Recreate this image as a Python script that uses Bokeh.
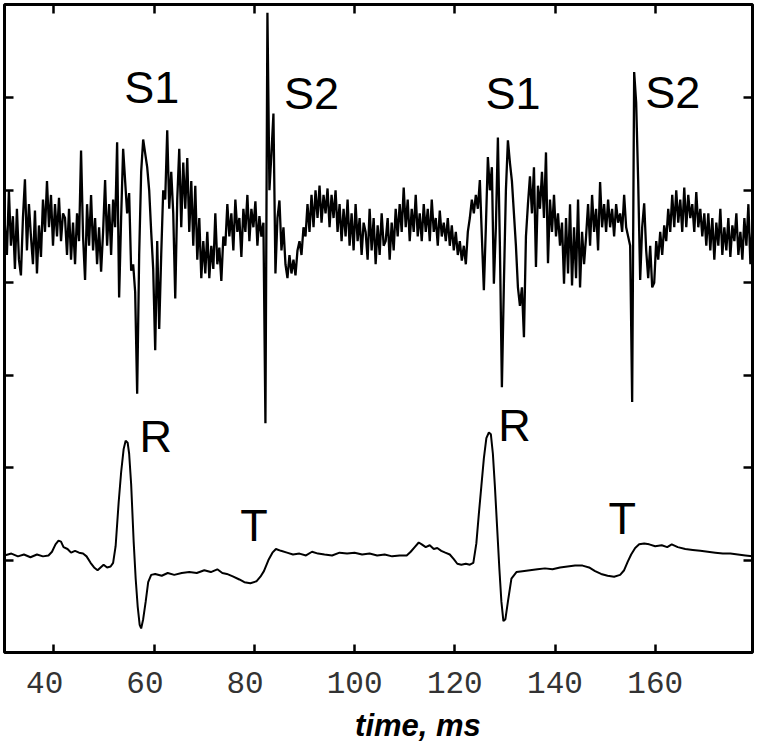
import numpy as np
from bokeh.plotting import figure
from bokeh.layouts import column
from bokeh.models import LinearAxis, FixedTicker, Label, Range1d
from bokeh.embed import file_html
from bokeh.resources import INLINE

# ---------------- data ----------------
x_ticks = [40, 60, 80, 100, 120, 140, 160]
# tick texts are padded to three characters, as in the original
x_tick_labels = ["40\u00a0", "60\u00a0", "80\u00a0", "100", "120", "140", "160"]
y_ticks = [1, 2, 3, 4, 5, 6]

# phonocardiogram (upper trace), sampled every 0.4 ms starting at 30.2 ms
pcg_t0 = 30.2
pcg_dt = 0.4
pcg_v = [
    4.62, 4.30, 5.00, 4.40, 4.72, 4.15, 4.80, 4.25, 4.08, 4.70,
    5.12, 4.35, 4.85, 4.50, 4.20, 4.78, 4.10, 4.62, 4.28, 4.90,
    4.55, 5.10, 4.60, 4.95, 4.40, 4.85, 4.50, 4.92, 4.45, 4.75,
    4.70, 4.30, 4.80, 4.25, 4.65, 4.20, 4.75, 4.45, 5.43, 4.50,
    4.03, 4.85, 4.40, 4.95, 4.35, 4.70, 4.20, 4.60, 4.12, 4.55,
    5.11, 4.40, 4.85, 4.30, 4.90, 4.60, 5.52, 3.84, 4.70, 5.45,
    5.10, 4.75, 4.97, 4.13, 4.20, 3.90, 2.80, 4.30, 5.20, 5.55,
    5.40, 5.25, 5.00, 4.55, 4.15, 3.27, 4.45, 3.50, 4.30, 5.00,
    4.90, 5.65, 4.80, 5.20, 4.75, 3.83, 4.90, 5.45, 4.60, 5.30,
    4.80, 5.35, 4.55, 5.10, 4.40, 5.05, 4.25, 4.70, 4.05, 4.45,
    4.10, 4.55, 4.05, 4.40, 4.15, 4.75, 4.20, 4.38, 4.02, 4.50,
    4.40, 4.85, 4.50, 4.75, 4.35, 4.90, 4.55, 4.70, 4.28, 4.80,
    4.55, 4.95, 4.45, 4.80, 4.60, 4.88, 4.40, 4.72, 4.50, 4.65,
    2.48, 6.92, 5.00, 5.40, 5.83, 4.10, 4.70, 4.89, 4.35, 4.60,
    4.20, 4.05, 4.30, 4.10, 4.25, 4.08, 4.35, 4.45, 4.30, 4.60,
    4.50, 4.85, 4.55, 4.95, 4.60, 5.00, 4.70, 5.05, 4.65, 4.95,
    4.75, 5.02, 4.60, 4.95, 4.70, 5.00, 4.55, 4.85, 4.45, 4.80,
    4.50, 4.90, 4.40, 4.75, 4.35, 4.85, 4.45, 4.70, 4.30, 4.65,
    4.55, 4.25, 4.80, 4.35, 4.70, 4.20, 4.62, 4.30, 4.75, 4.40,
    4.45, 4.70, 4.25, 4.65, 4.35, 4.80, 4.50, 4.85, 4.55, 5.03,
    4.60, 4.90, 4.45, 4.80, 4.55, 4.95, 4.50, 4.75, 4.45, 4.85,
    4.55, 4.80, 4.45, 4.90, 4.55, 4.70, 4.40, 4.78, 4.50, 4.65,
    4.45, 4.70, 4.40, 4.62, 4.35, 4.55, 4.30, 4.45, 4.24, 4.40,
    4.20, 4.55, 4.70, 4.90, 4.75, 4.95, 4.80, 5.11, 4.50, 3.92,
    4.60, 5.36, 5.00, 5.25, 3.99, 4.60, 5.57, 4.40, 2.87, 4.00,
    5.00, 5.54, 5.30, 5.10, 4.75, 4.40, 3.95, 3.75, 3.95, 3.41,
    4.50, 4.85, 5.15, 4.75, 5.25, 4.17, 5.05, 4.80, 5.20, 4.70,
    5.41, 4.21, 4.90, 4.55, 4.95, 4.50, 4.75, 4.40, 4.65, 3.99,
    4.70, 4.10, 4.85, 3.97, 4.60, 4.05, 4.90, 3.95, 4.55, 4.20,
    4.50, 4.85, 4.40, 4.95, 4.55, 4.80, 4.35, 5.09, 4.60, 4.85,
    4.55, 4.90, 4.60, 4.80, 4.50, 4.85, 4.65, 4.75, 4.55, 4.95,
    4.60, 4.50, 4.40, 2.71, 6.28, 5.95, 5.10, 4.03, 4.60, 4.86,
    4.35, 4.05, 4.40, 3.95, 4.00, 4.45, 4.25, 4.55, 4.30, 4.62,
    4.45, 4.80, 4.55, 4.95, 4.60, 5.00, 4.65, 4.90, 4.55, 5.03,
    4.60, 4.95, 4.70, 4.85, 4.55, 4.98, 4.60, 4.80, 4.50, 4.75,
    4.40, 4.75, 4.35, 4.70, 4.25, 4.65, 4.40, 4.80, 4.30, 4.60,
    4.35, 4.70, 4.28, 4.62, 4.45, 4.75, 4.30, 4.55, 4.25, 4.70,
    4.40, 4.85, 4.20, 4.60,
]

# electrocardiogram (lower trace)
ecg_t = [
    30.1, 31.5, 32.8, 34.0, 35.3, 36.6, 37.8, 38.9, 39.6, 40.3,
    40.9, 41.4, 41.9, 42.7, 43.4, 44.2, 45.0, 45.8, 46.5, 47.3,
    48.0, 48.7, 49.3, 49.9, 50.6, 51.3, 51.8, 52.3, 52.9, 53.4,
    53.9, 54.3, 54.7, 55.0, 55.4, 55.9, 56.3, 56.7, 57.1, 57.4,
    57.8, 58.3, 58.8, 59.4, 60.2, 61.5, 62.7, 64.0, 65.5, 67.0,
    68.5, 70.0, 71.3, 72.6, 73.6, 74.5, 75.8, 77.0, 78.0, 79.2,
    80.4, 81.2, 81.9, 82.8, 83.6, 84.3, 85.3, 86.5, 87.7, 89.0,
    90.3, 91.5, 92.7, 94.0, 95.5, 97.0, 98.5, 100.0, 101.5, 103.0,
    104.5, 106.0, 107.5, 109.0, 110.4, 111.2, 112.0, 112.8, 113.4, 114.2,
    115.0, 115.8, 116.5, 117.3, 118.1, 119.0, 119.8, 120.5, 121.3, 122.2,
    123.0, 123.7, 124.3, 124.8, 125.3, 125.8, 126.3, 126.8, 127.2, 127.6,
    128.0, 128.4, 128.9, 129.3, 129.7, 130.1, 130.6, 131.3, 132.3, 133.5,
    135.0, 136.5, 138.0, 139.5, 141.0, 142.5, 144.0, 145.5, 146.8, 148.0,
    149.2, 150.5, 151.8, 153.0, 153.8, 154.5, 155.2, 156.0, 156.8, 157.8,
    158.8, 160.0, 161.3, 162.4, 163.3, 164.5, 166.0, 167.5, 169.0, 170.5,
    172.0, 173.5, 175.0, 176.5, 178.0, 179.4,
]
ecg_v = [
    1.05, 1.07, 1.04, 1.06, 1.03, 1.06, 1.04, 1.05, 1.09, 1.17,
    1.21, 1.20, 1.14, 1.12, 1.08, 1.10, 1.08, 1.07, 1.04, 0.97,
    0.92, 0.89, 0.92, 0.95, 0.92, 0.93, 0.97, 1.15, 1.62, 1.95,
    2.20, 2.29, 2.27, 2.15, 1.82, 1.20, 0.80, 0.50, 0.30, 0.26,
    0.36, 0.55, 0.76, 0.84, 0.85, 0.83, 0.86, 0.84, 0.86, 0.87,
    0.86, 0.89, 0.87, 0.90, 0.86, 0.85, 0.82, 0.79, 0.76, 0.75,
    0.77, 0.82, 0.88, 1.00, 1.08, 1.12, 1.10, 1.08, 1.06, 1.07,
    1.05, 1.09, 1.07, 1.06, 1.05, 1.08, 1.07, 1.08, 1.06, 1.07,
    1.05, 1.06, 1.04, 1.05, 1.05, 1.09, 1.14, 1.19, 1.17, 1.14,
    1.16, 1.12, 1.13, 1.10, 1.08, 1.06, 1.01, 0.96, 0.95, 0.96,
    0.95, 0.97, 1.18, 1.50, 1.80, 2.10, 2.32, 2.38, 2.36, 2.15,
    1.80, 1.40, 0.90, 0.55, 0.34, 0.36, 0.55, 0.80, 0.87, 0.88,
    0.89, 0.90, 0.91, 0.90, 0.92, 0.93, 0.94, 0.94, 0.92, 0.88,
    0.85, 0.83, 0.82, 0.84, 0.89, 0.98, 1.06, 1.13, 1.17, 1.18,
    1.17, 1.15, 1.16, 1.14, 1.17, 1.14, 1.12, 1.11, 1.10, 1.09,
    1.08, 1.07, 1.07, 1.06, 1.05, 1.04,
]

# annotations: text, time (ms), level
ann_text = ["S1", "S2", "S1", "S2", "R", "R", "T", "T"]
ann_t = [59.5, 91.4, 131.6, 163.5, 60.3, 131.9, 79.9, 153.4]
ann_y = [6.11, 6.05, 6.05, 6.06, 2.34, 2.46, 1.37, 1.45]

x_label = "time, ms"
x_label_t = 112.65

# ---------------- main figure ----------------
pcg_t = pcg_t0 + pcg_dt * np.arange(len(pcg_v))
x_rng = Range1d(30.12, 179.42)

p = figure(width=756, height=707,
           x_range=x_rng, y_range=Range1d(0, 7.01),
           output_backend="svg", toolbar_location=None,
           x_axis_location=None, y_axis_location=None,
           min_border_left=4, min_border_right=4,
           min_border_top=4, min_border_bottom=55)
for g in p.grid:
    g.visible = False
p.outline_line_color = "black"
p.outline_line_width = 3
p.background_fill_color = "white"
p.border_fill_color = "white"


def make_axis(ticks, labels, tick_len):
    ax = LinearAxis(ticker=FixedTicker(ticks=ticks, minor_ticks=[]))
    ax.axis_line_color = None
    ax.major_tick_in = tick_len
    ax.major_tick_out = 0
    ax.major_tick_line_width = 2.5
    ax.major_tick_line_color = "black"
    ax.minor_tick_line_color = None
    if labels is not None:
        ax.major_label_overrides = dict(zip(ticks, labels))
        ax.major_label_text_font = "Liberation Mono"
        ax.major_label_text_font_size = "31px"
        ax.major_label_text_color = "#333333"
        ax.major_label_standoff = 14
    else:
        ax.major_label_text_font_size = "1px"
        ax.major_label_text_color = None
        ax.major_label_standoff = 0
    return ax


p.add_layout(make_axis(x_ticks, x_tick_labels, 8), "below")
p.add_layout(make_axis(x_ticks, None, 9), "above")
p.add_layout(make_axis(y_ticks, None, 9), "left")
p.add_layout(make_axis(y_ticks, None, 9), "right")

p.line(pcg_t, pcg_v, line_color="black", line_width=2.3)
p.line(ecg_t, ecg_v, line_color="black", line_width=2)

for txt, tx, ty in zip(ann_text, ann_t, ann_y):
    p.add_layout(Label(x=tx, y=ty, text=txt, text_font="Liberation Sans",
                       text_font_size="45px", text_color="black",
                       text_align="center", text_baseline="middle"))

# ---------------- strip holding the axis title ----------------
q = figure(width=756, height=36, x_range=x_rng, y_range=Range1d(0, 1),
           output_backend="svg", toolbar_location=None,
           x_axis_location=None, y_axis_location=None,
           min_border_left=4, min_border_right=4,
           min_border_top=0, min_border_bottom=0)
for g in q.grid:
    g.visible = False
q.outline_line_color = None
q.background_fill_color = "white"
q.border_fill_color = "white"
q.add_layout(Label(x=x_label_t, y=0.5, text=x_label, text_font="Liberation Sans",
                   text_font_size="31px", text_font_style="bold italic",
                   text_color="black", text_align="center",
                   text_baseline="alphabetic"))

open("out.html", "w").write(file_html(column(p, q, spacing=0), INLINE))
